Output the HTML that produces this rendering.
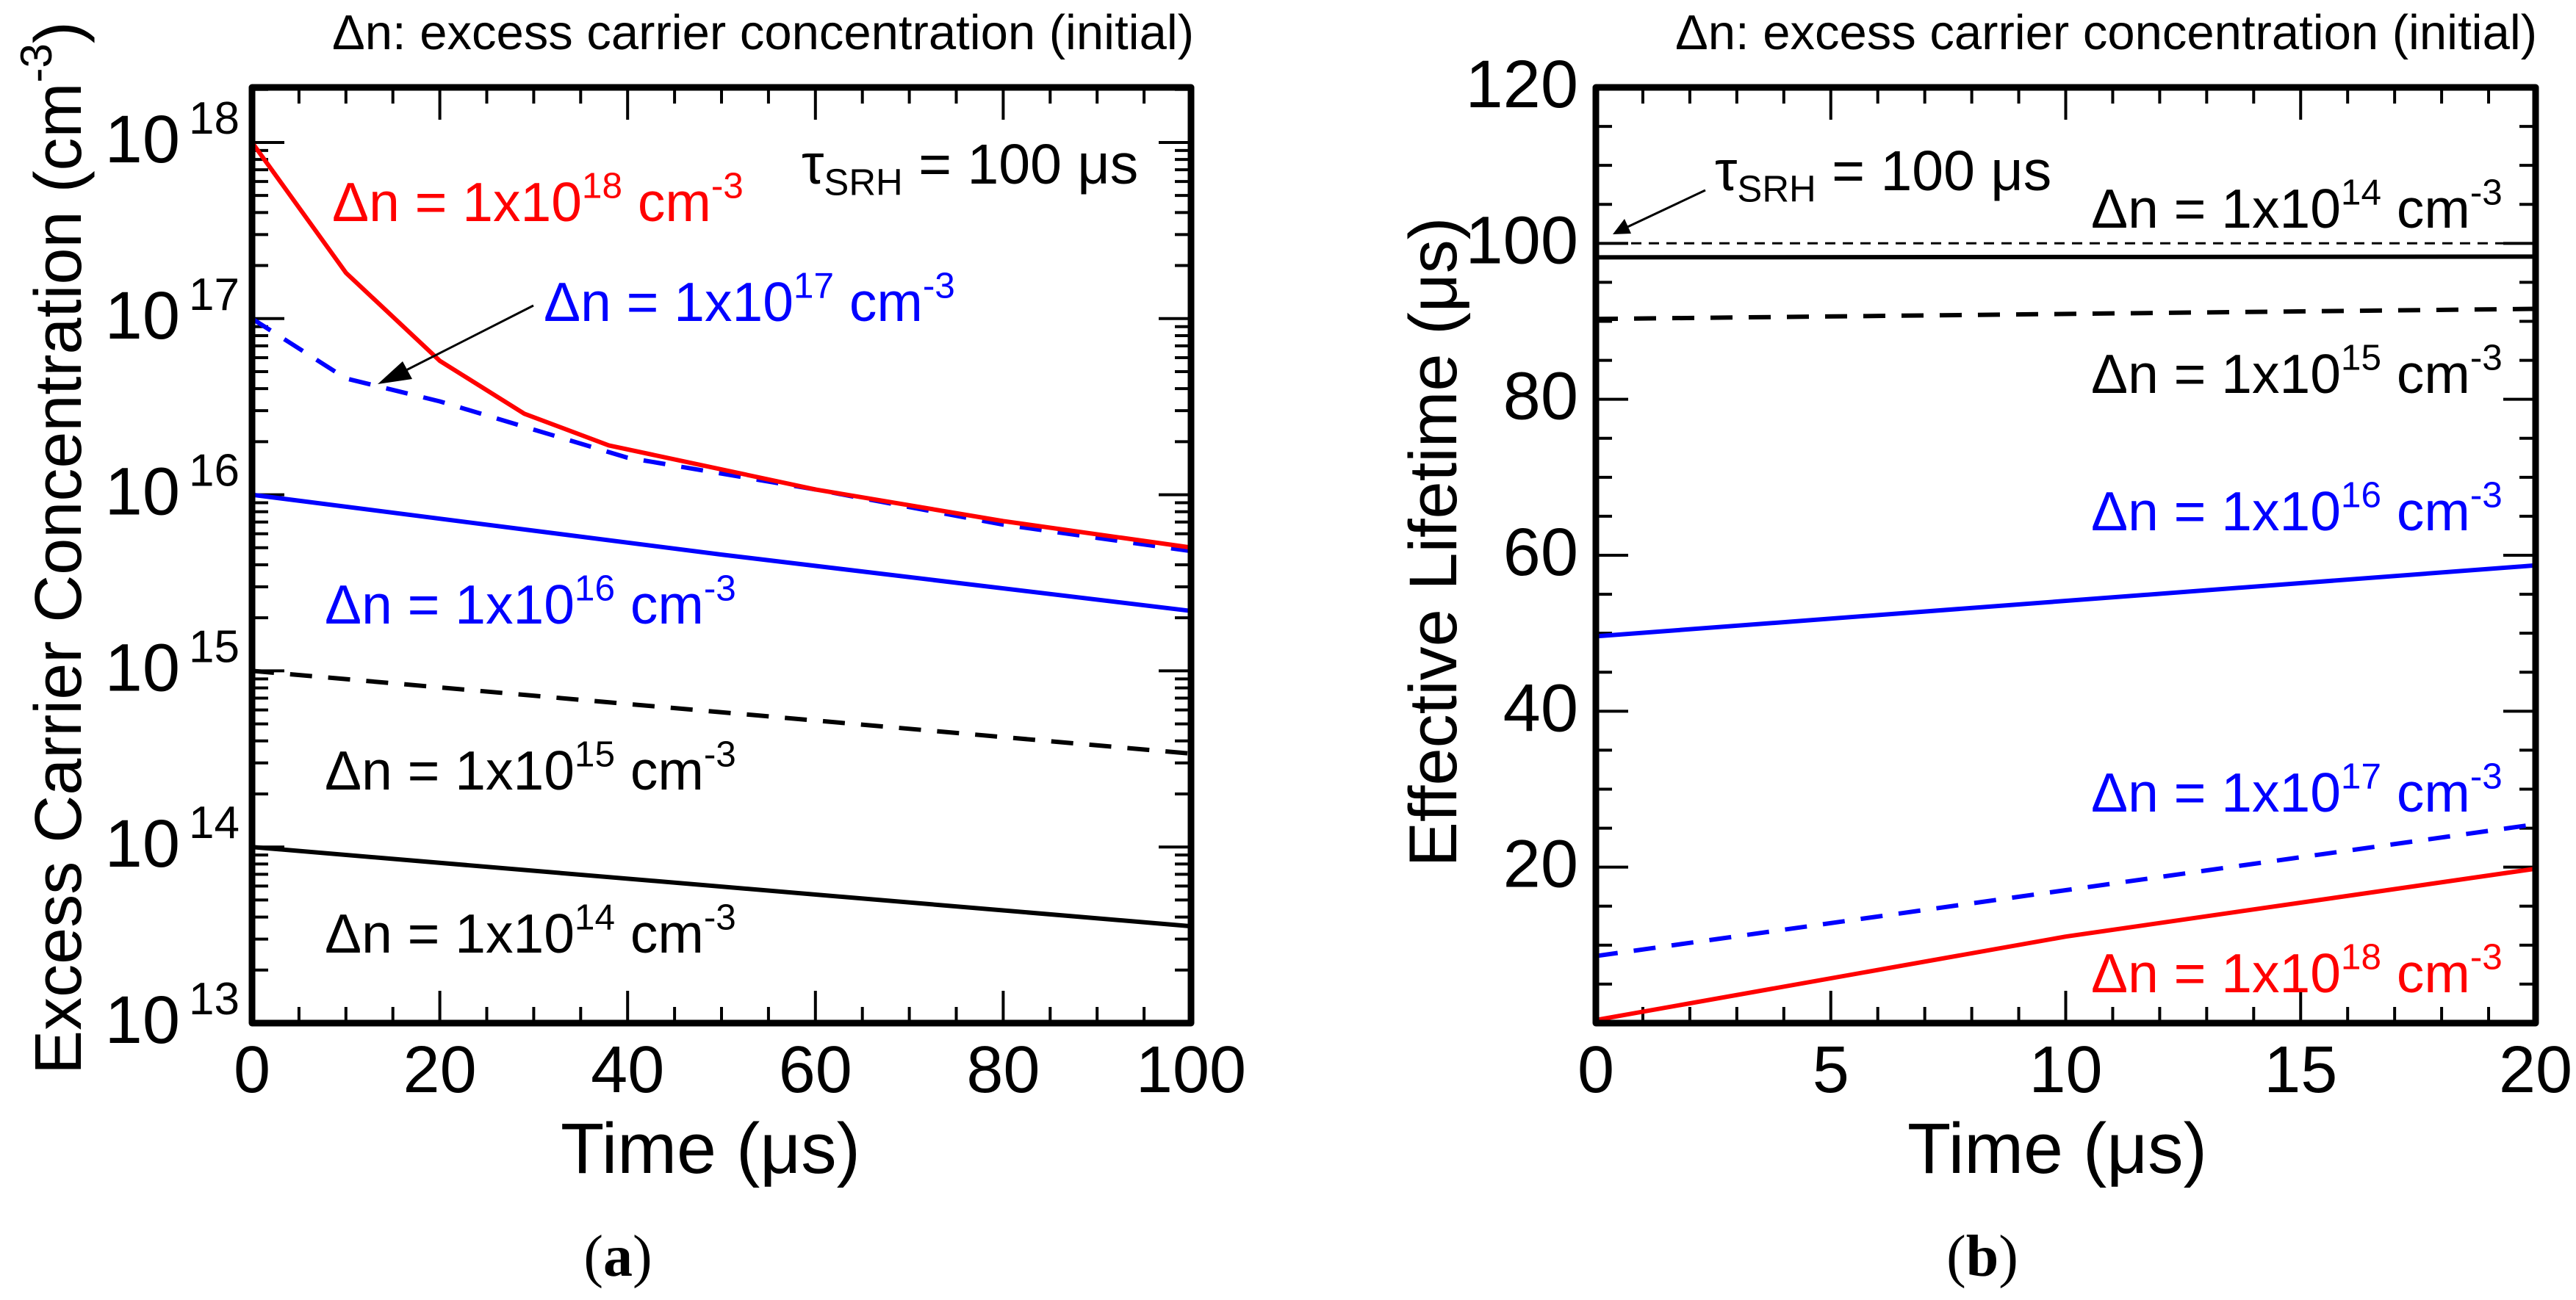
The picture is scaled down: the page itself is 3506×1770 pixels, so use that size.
<!DOCTYPE html>
<html><head><meta charset="utf-8"><style>
html,body{margin:0;padding:0;background:#fff;}
svg{display:block;font-family:"Liberation Sans",Arial,sans-serif;}
</style></head><body>
<svg id="fig" width="3506" height="1770" viewBox="0 0 3506 1770" xmlns="http://www.w3.org/2000/svg">
<g id="pa"></g>
<g id="pb"></g>
</svg>
<script>
// ---------- Panel (a) data: log10 of excess carrier concentration ----------
const aTime18 = [0, 10, 20, 29, 38, 60, 80, 100];
const aVal18  = [18.0, 17.26, 16.76, 16.46, 16.28, 16.03, 15.85, 15.70];
const aTime17 = [0, 10, 20, 40, 60, 80, 100];
const aVal17  = [17.0, 16.66, 16.53, 16.21, 16.03, 15.83, 15.68];
const aTime16 = [0, 50, 100];
const aVal16  = [16.0, 15.66, 15.34];
const aTime15 = [0, 100];
const aVal15  = [15.0, 14.53];
const aTime14 = [0, 100];
const aVal14  = [14.0, 13.55];
const aXTicks = [0, 20, 40, 60, 80, 100];
const aYTicks = [13, 14, 15, 16, 17, 18];
// ---------- Panel (b) data: effective lifetime (us) ----------
const bTimeTau = [0, 20];
const bValTau  = [100, 100];
const bTime14 = [0, 20];
const bVal14  = [98.2, 98.3];
const bTime15 = [0, 20];
const bVal15  = [90.3, 91.6];
const bTime16 = [0, 20];
const bVal16  = [49.6, 58.7];
const bTime17 = [0, 20];
const bVal17  = [8.6, 25.5];
const bTime18 = [0, 10, 20];
const bVal18  = [0.4, 11.1, 19.8];
const bXTicks = [0, 5, 10, 15, 20];
const bYTicks = [20, 40, 60, 80, 100, 120];

const NS = "http://www.w3.org/2000/svg";
function mk(parent, tag, attrs){const e=document.createElementNS(NS,tag);for(const k in attrs)e.setAttribute(k,attrs[k]);parent.appendChild(e);return e;}

const A = {x0:343, x1:1621, y0:119, y1:1393};
const ax = t => A.x0 + (t-0)/(100-0)*(A.x1-A.x0);
const ay = v => A.y1 - (v-13)/(18.3125-13)*(A.y1-A.y0);
const B = {x0:2172, x1:3451, y0:119, y1:1393};
const bx = t => B.x0 + t/20*(B.x1-B.x0);
const by = v => B.y1 - v/120*(B.y1-B.y0);

function series(g, xs, ys, fx, fy, color, dash, w, name){
  const d = xs.map((x,i)=>(i?'L':'M')+fx(x).toFixed(1)+' '+fy(ys[i]).toFixed(1)).join(' ');
  const p = mk(g,'path',{d:d,fill:'none',stroke:color,'stroke-width':w,'stroke-dasharray':dash||'none','stroke-linejoin':'round'});
  
  
}
function label(g, x, y, size, color, parts, name, anchor){
  const t = mk(g,'text',{x:x,y:y,'font-size':size,fill:color,'text-anchor':anchor||'start'});
  
  
  parts.forEach(p=>{
    const s = mk(t,'tspan',{});
    if(p.sup){s.setAttribute('font-size',size*0.66);s.setAttribute('dy',-size*0.42);}
    if(p.sub){s.setAttribute('font-size',size*0.66);s.setAttribute('dy',size*0.2);}
    if(p.back){s.setAttribute('dy',p.back);}
    s.textContent = p.t;
  });
  return t;
}
function dnLabel(g,x,y,exp,color,name){
  const S=75;
  label(g,x,y,S,color,[{t:'\u0394n = 1x10'},{t:String(exp),sup:1},{t:' cm',back:S*0.42},{t:'-3',sup:1}],name);
}

// ===== Panel A =====
const pa = document.getElementById('pa');
const tA = mk(pa,'g',{stroke:'#000','stroke-width':4});


for(let t=0;t<=100;t+=5){
  const L = (t%20===0)?44:22;
  mk(tA,'line',{x1:ax(t),x2:ax(t),y1:A.y1,y2:A.y1-L});
  mk(tA,'line',{x1:ax(t),x2:ax(t),y1:A.y0,y2:A.y0+L});
}
for(let d=13; d<=18; d++){
  for(let m=1;m<=9;m++){
    const v = d+Math.log10(m);
    if(v>18.31) continue;
    const L = m===1?44:22;
    mk(tA,'line',{x1:A.x0,x2:A.x0+L,y1:ay(v),y2:ay(v)});
    mk(tA,'line',{x1:A.x1,x2:A.x1-L,y1:ay(v),y2:ay(v)});
  }
}
series(pa,aTime14,aVal14,ax,ay,'#000','',6,'series-1e14');
series(pa,aTime15,aVal15,ax,ay,'#000','30 22',6,'series-1e15');
series(pa,aTime16,aVal16,ax,ay,'#0000ff','',6,'series-1e16');
series(pa,aTime17,aVal17,ax,ay,'#0000ff','30 22',6,'series-1e17');
series(pa,aTime18,aVal18,ax,ay,'#ff0000','',6,'series-1e18');
const fA = mk(pa,'rect',{x:A.x0,y:A.y0,width:A.x1-A.x0,height:A.y1-A.y0,fill:'none',stroke:'#000','stroke-width':9,'stroke-linejoin':'round'});
 
aXTicks.forEach(t=>{const e=mk(pa,'text',{x:ax(t),y:1487,'font-size':90,'text-anchor':'middle'});e.textContent=t;
   });
aYTicks.forEach(v=>{
  const e=mk(pa,'text',{x:245,y:ay(v)+27,'font-size':92,'text-anchor':'end'});e.textContent='10';
   
  const s=mk(pa,'text',{x:257,y:ay(v)-12,'font-size':62});s.textContent=v;
   
});
let e=mk(pa,'text',{x:967,y:1597,'font-size':97,'text-anchor':'middle'});e.textContent='Time (\u03bcs)';
 
e=mk(pa,'text',{transform:'translate(110,746) rotate(-90)','font-size':90,'text-anchor':'middle'});
 
e.innerHTML='<tspan>Excess Carrier Concentration (cm</tspan><tspan font-size="60" dy="-40">-3</tspan><tspan dy="40">)</tspan>';
label(pa,452,67,67,'#000',[{t:'\u0394n: excess carrier concentration (initial)'}],'note-a');
label(pa,1091,250,77,'#000',[{t:'\u03c4'},{t:'SRH',sub:1},{t:' = 100 \u03bcs',back:-77*0.2}],'tau-label-a');
dnLabel(pa,452,301,18,'#ff0000','label-1e18-a');
dnLabel(pa,740,437,17,'#0000ff','label-1e17-a');
dnLabel(pa,442,849,16,'#0000ff','label-1e16-a');
dnLabel(pa,442,1075,15,'#000','label-1e15-a');
dnLabel(pa,442,1297,14,'#000','label-1e14-a');
e=mk(pa,'line',{x1:726,y1:416,x2:545,y2:508,stroke:'#000','stroke-width':3});
 
e=mk(pa,'polygon',{points:'514,523 548,492 561,516',fill:'#000'});
 
e=mk(pa,'text',{x:841,y:1737,'font-size':80,'text-anchor':'middle','font-family':'Liberation Serif, serif'});
e.innerHTML='(<tspan font-weight="bold">a</tspan>)';
 

// ===== Panel B =====
const pb = document.getElementById('pb');
const tB = mk(pb,'g',{stroke:'#000','stroke-width':4});


for(let t=0;t<=20;t+=1){
  const L=(t%5===0)?44:22;
  mk(tB,'line',{x1:bx(t),x2:bx(t),y1:B.y1,y2:B.y1-L});
  mk(tB,'line',{x1:bx(t),x2:bx(t),y1:B.y0,y2:B.y0+L});
}
for(let v=0;v<=120;v+=5){
  const L=(v%20===0)?44:22;
  mk(tB,'line',{x1:B.x0,x2:B.x0+L,y1:by(v),y2:by(v)});
  mk(tB,'line',{x1:B.x1,x2:B.x1-L,y1:by(v),y2:by(v)});
}
series(pb,bTimeTau,bValTau,bx,by,'#000','14 10',3,'series-tau-srh');
series(pb,bTime14,bVal14,bx,by,'#000','',6,'series-1e14');
series(pb,bTime15,bVal15,bx,by,'#000','30 22',6,'series-1e15');
series(pb,bTime16,bVal16,bx,by,'#0000ff','',6,'series-1e16');
series(pb,bTime17,bVal17,bx,by,'#0000ff','30 22',6,'series-1e17');
series(pb,bTime18,bVal18,bx,by,'#ff0000','',6,'series-1e18');
const fB = mk(pb,'rect',{x:B.x0,y:B.y0,width:B.x1-B.x0,height:B.y1-B.y0,fill:'none',stroke:'#000','stroke-width':9,'stroke-linejoin':'round'});
 
bXTicks.forEach(t=>{const e=mk(pb,'text',{x:bx(t),y:1487,'font-size':90,'text-anchor':'middle'});e.textContent=t;
   });
bYTicks.forEach(v=>{const e=mk(pb,'text',{x:2148,y:by(v)+27,'font-size':92,'text-anchor':'end'});e.textContent=v;
   });
e=mk(pb,'text',{x:2800,y:1597,'font-size':97,'text-anchor':'middle'});e.textContent='Time (\u03bcs)';
 
e=mk(pb,'text',{transform:'translate(1982,738) rotate(-90)','font-size':92,'text-anchor':'middle'});e.textContent='Effective Lifetime (\u03bcs)';
 
label(pb,2280,67,67,'#000',[{t:'\u0394n: excess carrier concentration (initial)'}],'note-b');
label(pb,2334,259,77,'#000',[{t:'\u03c4'},{t:'SRH',sub:1},{t:' = 100 \u03bcs',back:-77*0.2}],'tau-label-b');
e=mk(pb,'line',{x1:2321,y1:259,x2:2215,y2:309,stroke:'#000','stroke-width':3});
 
e=mk(pb,'polygon',{points:'2195,319 2211,298 2220,318',fill:'#000'});
 
dnLabel(pb,2846,310,14,'#000','label-1e14-b');
dnLabel(pb,2846,535,15,'#000','label-1e15-b');
dnLabel(pb,2846,722,16,'#0000ff','label-1e16-b');
dnLabel(pb,2846,1105,17,'#0000ff','label-1e17-b');
dnLabel(pb,2846,1351,18,'#ff0000','label-1e18-b');
e=mk(pb,'text',{x:2698,y:1737,'font-size':80,'text-anchor':'middle','font-family':'Liberation Serif, serif'});
e.innerHTML='(<tspan font-weight="bold">b</tspan>)';
 
</script>
</body></html>
